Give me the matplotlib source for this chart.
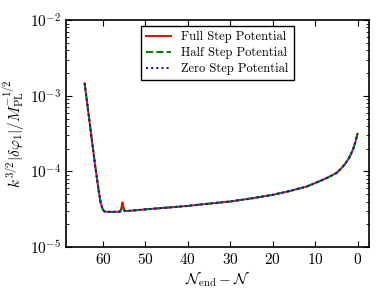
import numpy as np
import matplotlib
matplotlib.use('Agg')
import matplotlib.pyplot as plt

plt.rcParams['font.family'] = 'serif'
plt.rcParams['font.serif'] = ['cmr10', 'DejaVu Serif']
plt.rcParams['mathtext.fontset'] = 'cm'
plt.rcParams['axes.unicode_minus'] = False
plt.rcParams['axes.formatter.use_mathtext'] = True

# e-folds before end of inflation
n_efolds = [64.3, 63.5, 62.6, 61.8, 61.0, 60.5, 60.0, 59.5, 58.5, 57.5, 56.5,
            55.9, 55.6, 55.4, 55.1, 54.8, 54.3, 52, 50, 47, 44, 40, 35, 30,
            25, 20, 16, 12, 9, 7, 5, 4, 3, 2, 1.5, 1, 0.5, 0]

full_step = [1.46e-3, 6.5e-4, 2.6e-4, 1.17e-4, 5.6e-5, 3.8e-5, 3.1e-5, 2.93e-5,
             2.92e-5, 2.92e-5, 2.93e-5, 2.95e-5, 3.4e-5, 3.9e-5, 3.3e-5,
             3.02e-5, 3.0e-5, 3.07e-5, 3.15e-5, 3.25e-5, 3.35e-5, 3.5e-5,
             3.75e-5, 4.0e-5, 4.4e-5, 4.9e-5, 5.5e-5, 6.3e-5, 7.4e-5, 8.3e-5,
             9.5e-5, 1.07e-4, 1.24e-4, 1.5e-4, 1.72e-4, 2.0e-4, 2.45e-4, 3.15e-4]

half_step = [1.46e-3, 6.5e-4, 2.6e-4, 1.17e-4, 5.6e-5, 3.8e-5, 3.1e-5, 2.93e-5,
             2.92e-5, 2.92e-5, 2.93e-5, 2.95e-5, 3.2e-5, 3.45e-5, 3.1e-5,
             3.0e-5, 3.0e-5, 3.07e-5, 3.15e-5, 3.25e-5, 3.35e-5, 3.5e-5,
             3.75e-5, 4.0e-5, 4.4e-5, 4.9e-5, 5.5e-5, 6.3e-5, 7.4e-5, 8.3e-5,
             9.5e-5, 1.07e-4, 1.24e-4, 1.5e-4, 1.72e-4, 2.0e-4, 2.45e-4, 3.15e-4]

zero_step = [1.46e-3, 6.5e-4, 2.6e-4, 1.17e-4, 5.6e-5, 3.8e-5, 3.1e-5, 2.93e-5,
             2.92e-5, 2.92e-5, 2.93e-5, 2.95e-5, 2.96e-5, 2.97e-5, 2.98e-5,
             2.99e-5, 3.0e-5, 3.07e-5, 3.15e-5, 3.25e-5, 3.35e-5, 3.5e-5,
             3.75e-5, 4.0e-5, 4.4e-5, 4.9e-5, 5.5e-5, 6.3e-5, 7.4e-5, 8.3e-5,
             9.5e-5, 1.07e-4, 1.24e-4, 1.5e-4, 1.72e-4, 2.0e-4, 2.45e-4, 3.15e-4]

fig = plt.figure(figsize=(3.88, 2.91), dpi=100)
ax = fig.add_axes([0.170, 0.151, 0.781, 0.780])

ax.plot(n_efolds, full_step, color='red', lw=1.4, label='Full Step Potential')
ax.plot(n_efolds, half_step, color='green', lw=1.4, ls='--',
        label='Half Step Potential')
ax.plot(n_efolds, zero_step, color='blue', lw=1.4, ls=':',
        label='Zero Step Potential')

ax.set_yscale('log')
ax.set_ylim(1e-5, 1e-2)
ax.set_xlim(68.7, -2.7)
ax.set_xticks([60, 50, 40, 30, 20, 10, 0])
ax.tick_params(which='both', direction='in', top=True, right=True,
               labelsize=11)
ax.tick_params(which='major', length=4)
ax.tick_params(which='minor', length=2)
for s in ax.spines.values():
    s.set_linewidth(1.2)

ax.set_xlabel(r'$\mathcal{N}_{\rm end}-\mathcal{N}$', fontsize=11, labelpad=2)
ax.set_ylabel(r'$k^{3/2}|\delta\varphi_1|/M_{\rm PL}^{-1/2}$', fontsize=11,
              labelpad=2)

leg = ax.legend(loc='upper center', fontsize=9, fancybox=False,
                framealpha=1, edgecolor='black', borderaxespad=0.5,
                handlelength=2.0, labelspacing=0.3)
leg.get_frame().set_linewidth(1.0)

fig.savefig('out.png', dpi=100)
